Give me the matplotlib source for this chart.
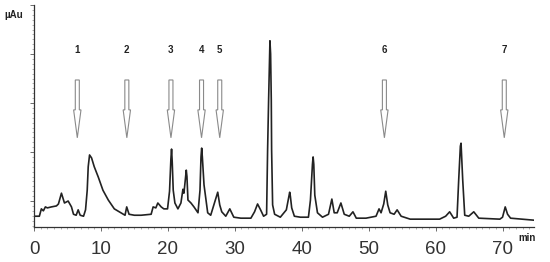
import numpy as np
import matplotlib
matplotlib.use('Agg')
import matplotlib.pyplot as plt
from matplotlib.patches import FancyArrow
from matplotlib.ticker import MultipleLocator

plt.rcParams['font.family'] = ['Liberation Sans', 'DejaVu Sans']

# chromatogram trace (time in min, signal in arbitrary uAu)
time_min = [0.1, 0.8, 1.1, 1.4, 1.7, 2.0, 2.6, 3.35, 3.65, 4.1, 4.55, 5.1, 5.6, 5.9, 6.3, 6.6, 6.9,
            7.4, 7.7, 7.95, 8.1, 8.3, 8.6, 9.0, 9.6, 10.3, 11.1, 12.0, 13.0, 13.6, 13.85, 14.2, 15.0, 16.0,
            17.5, 17.8, 18.2, 18.5, 19.0, 19.4, 19.95, 20.25, 20.45, 20.55, 20.65, 20.8, 21.05, 21.5,
            21.95, 22.25, 22.4, 22.65, 22.75, 22.85, 23.0, 23.45, 23.9, 24.5, 24.8, 24.95, 25.05,
            25.15, 25.4, 25.95, 26.4, 27.1, 27.45, 27.75, 28.05, 28.65, 29.25, 29.85, 30.9, 32.4,
            32.95, 33.4, 33.85, 34.3, 34.75, 34.9, 35.05, 35.25, 35.35, 35.45, 35.5, 35.65, 35.95,
            36.8, 37.7, 38.1, 38.2, 38.3, 38.5, 38.9, 39.8, 41.0, 41.3, 41.6, 41.7, 41.8, 41.95,
            42.35, 43.1, 44.0, 44.5, 44.85, 45.3, 45.85, 46.35, 47.1, 47.65, 48.15, 49.6, 51.1, 51.55,
            51.85, 52.25, 52.55, 52.85, 53.2, 53.8, 54.25, 54.85, 56.2, 60.6, 61.5, 62.1, 62.7, 63.2,
            63.45, 63.7, 63.8, 64.05, 64.35, 64.95, 65.7, 66.45, 69.6, 70.0, 70.4, 70.75, 71.2, 74.6]
signal = [6.9, 6.9, 8.4, 8.0, 8.8, 8.6, 8.8, 9.0, 9.4, 11.6, 9.6, 10.0, 8.8, 7.3, 7.1, 8.2, 7.1,
          6.9, 8.2, 12.2, 17.0, 19.4, 18.8, 17.0, 14.9, 12.2, 10.2, 8.4, 7.6, 7.1, 8.8, 7.3, 7.1, 7.1,
          7.3, 8.8, 8.6, 9.6, 8.8, 8.4, 8.4, 12.0, 18.5, 20.6, 18.0, 12.2, 9.6, 8.4,
          9.6, 12.4, 11.6, 15.0, 16.3, 15.0, 10.2, 9.6, 8.8, 7.6, 12.2, 19.0, 20.8,
          19.0, 13.3, 7.6, 7.1, 10.2, 11.8, 9.2, 7.8, 6.9, 8.4, 6.7, 6.5, 6.5,
          7.8, 9.4, 8.2, 6.9, 7.3, 20.4, 30.6, 42.7, 40.0, 30.6, 20.4, 9.2, 7.3,
          6.7, 8.2, 11.0, 11.8, 11.0, 8.6, 6.9, 6.7, 6.7, 10.2, 17.5, 19.0, 17.5, 11.2,
          7.6, 6.7, 7.3, 10.4, 7.6, 7.6, 9.6, 7.3, 6.9, 7.8, 6.5, 6.5, 6.9, 8.4,
          7.6, 9.4, 12.0, 9.2, 7.6, 7.3, 8.2, 6.9, 6.3, 6.3, 6.9, 7.8, 6.5, 6.7,
          14.3, 21.2, 21.8, 14.3, 7.1, 6.9, 7.8, 6.5, 6.3, 6.7, 8.8, 7.3, 6.5, 6.1]

# marked compounds
arrow_labels = ['1', '2', '3', '4', '5', '6', '7']
arrow_times = [6.47, 13.87, 20.46, 25.03, 27.75, 52.35, 70.26]

x_ticks = [0, 10, 20, 30, 40, 50, 60, 70]

fig = plt.figure(figsize=(5.5, 2.62), dpi=100)
ax = fig.add_axes([34 / 550, 35 / 262, 500 / 550, 222 / 262])

ax.plot(time_min, signal, color='#222222', lw=1.2)

for lab, t in zip(arrow_labels, arrow_times):
    ax.add_patch(FancyArrow(t, 34.7, 0, -11.8, width=0.6, head_width=1.1,
                            head_length=5.7, length_includes_head=True,
                            facecolor='white', edgecolor='#8a8a8a', lw=0.8))
    ax.text(t, 40.8, lab, ha='center', va='center', fontsize=7, fontweight='bold',
            color='#222222')

ax.set_xlim(0, 74.7)
ax.set_ylim(4.7, 50)
ax.set_xticks(x_ticks)
ax.set_xticklabels([str(v) for v in x_ticks], fontsize=13.5, color='#333333')
ax.xaxis.set_minor_locator(MultipleLocator(1))
ax.yaxis.set_major_locator(MultipleLocator(10))
ax.yaxis.set_minor_locator(MultipleLocator(1))
ax.tick_params(axis='x', which='major', length=3, width=0.6, pad=7, colors='#555555',
               labelcolor='#333333')
ax.tick_params(axis='x', which='minor', length=1.5, width=0.4, colors='#777777')
ax.tick_params(axis='y', which='major', length=3, width=0.6, colors='#555555',
               labelleft=False)
ax.tick_params(axis='y', which='minor', length=1.5, width=0.4, colors='#777777')

for s in ['top', 'right']:
    ax.spines[s].set_visible(False)
for s in ['left', 'bottom']:
    ax.spines[s].set_color('#333333')
    ax.spines[s].set_linewidth(0.9)

fig.text(14 / 550, 1 - 15 / 262, 'µAu', ha='center', va='center', fontsize=7,
         fontweight='bold', color='#222222')
fig.text(527 / 550, 1 - 238 / 262, 'min', ha='center', va='center', fontsize=7,
         fontweight='bold', color='#222222')

fig.savefig('out.png', dpi=100)
